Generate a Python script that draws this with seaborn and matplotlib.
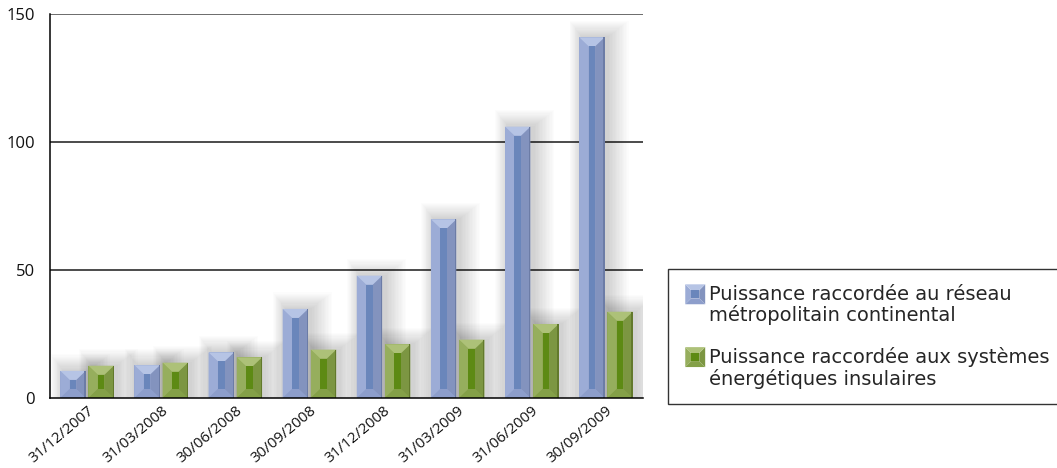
import matplotlib
matplotlib.use("Agg")
import matplotlib.pyplot as plt
from matplotlib.patches import Polygon, Rectangle
from matplotlib.legend_handler import HandlerBase
import pandas as pd
import seaborn as sns

# Connected photovoltaic capacity per quarter (MW)
dates = ["31/12/2007", "31/03/2008", "30/06/2008", "30/09/2008",
         "31/12/2008", "31/03/2009", "31/06/2009", "30/09/2009"]
continental = [10.6, 12.8, 17.8, 34.8, 47.8, 69.8, 106.0, 140.9]
insular = [12.6, 13.8, 15.9, 18.9, 21.0, 22.8, 28.9, 33.7]
series_names = ["Puissance raccordée au réseau\nmétropolitain continental",
                "Puissance raccordée aux systèmes\nénergétiques insulaires"]
y_ticks = [0, 50, 100, 150]

# bevel shading: base, top, left, right, bottom, inner, edge
shades = {
    series_names[0]: dict(base="#93a4cf", top="#b6c4e5", left="#9cacd6",
                          right="#8393be", bottom="#8d9ecb", inner="#6a86bb",
                          edge="#6c7ca6"),
    series_names[1]: dict(base="#87a14b", top="#adc178", left="#96ae5d",
                          right="#7c9642", bottom="#84a048", inner="#5d8a14",
                          edge="#62792c"),
}

df = pd.DataFrame({
    "date": dates * 2,
    "value": continental + insular,
    "series": [series_names[0]] * len(dates) + [series_names[1]] * len(dates),
})

sns.set_style("white")
plt.rcParams["font.family"] = ["Open Sans", "DejaVu Sans"]

W, H = 1057, 468
fig = plt.figure(figsize=(W / 100, H / 100), dpi=100)
ax = fig.add_axes([50 / W, 1 - 398 / H, 593 / W, 384 / H])

sns.barplot(data=df, x="date", y="value", hue="series",
            palette=[shades[s]["base"] for s in series_names],
            width=0.76, gap=0.1, legend=False, ax=ax, zorder=3,
            linewidth=0, saturation=1)

ax.set_xlim(-0.5, len(dates) - 0.5)
ax.set_ylim(0, 150)

# pixel -> data scale factors
px_x = len(dates) / 593.0
px_y = 150 / 384.0


def bevel_patches(x0, x1, y0, y1, sh, bpx=10, bpy=9, z=4):
    bx = min(bpx * px_x, (x1 - x0) * 0.37)
    by = min(bpy * px_y, (y1 - y0) * 0.42)
    polys = [
        ([(x0, y0), (x0, y1), (x0 + bx, y1 - by), (x0 + bx, y0 + by)], sh["left"]),
        ([(x1, y0), (x1, y1), (x1 - bx, y1 - by), (x1 - bx, y0 + by)], sh["right"]),
        ([(x0, y0), (x1, y0), (x1 - bx, y0 + by), (x0 + bx, y0 + by)], sh["bottom"]),
        ([(x0, y1), (x1, y1), (x1 - bx, y1 - by), (x0 + bx, y1 - by)], sh["top"]),
    ]
    out = [Polygon(p, closed=True, facecolor=c, edgecolor="none", zorder=z)
           for p, c in polys]
    out.append(Rectangle((x0 + bx, y0 + by), x1 - x0 - 2 * bx, y1 - y0 - 2 * by,
                         facecolor=sh["inner"], edgecolor="none", zorder=z + 0.1))
    # darker outline on the right edge
    out.append(Rectangle((x1 - 1.2 * px_x, y0), 1.2 * px_x, y1 - y0,
                         facecolor=sh["edge"], edgecolor="none", zorder=z + 0.2))
    return out


bars = [p for p in ax.patches if isinstance(p, Rectangle) and p.get_height() > 0]
for i, bar in enumerate(bars):
    sh = shades[series_names[0] if i < len(dates) else series_names[1]]
    x0 = bar.get_x()
    x1 = x0 + bar.get_width()
    h = bar.get_height()
    # soft halo behind each bar, leaning to the right
    for k in range(1, 16):
        ex, ey = k * 1.4 * px_x, k * 1.1 * px_y
        ax.add_patch(Rectangle((x0 - 0.6 * ex + 3 * px_x, 0),
                               (x1 - x0) + 1.6 * ex, h + ey,
                               facecolor="#000000", alpha=0.010, edgecolor="none",
                               zorder=2))
    for p in bevel_patches(x0, x1, 0, h, sh):
        ax.add_patch(p)

# axes styling
ax.set_yticks(y_ticks)
ax.set_yticklabels([str(t) for t in y_ticks])
for t in y_ticks[1:]:
    ax.axhline(t, color="#1a1a1a" if t < 150 else "#444444", lw=1.1, zorder=1)
for side in ["top", "right"]:
    ax.spines[side].set_visible(False)
for side in ["left", "bottom"]:
    ax.spines[side].set_color("#000000")
    ax.spines[side].set_linewidth(1.1)
    ax.spines[side].set_zorder(5)

ax.set_xlabel("")
ax.set_ylabel("")
ax.tick_params(axis="y", length=0, pad=11, labelsize=12, colors="#111111")
ax.tick_params(axis="x", which="major", length=0, pad=4, labelsize=10.8,
               colors="#111111")
ax.set_xticks([i + 0.5 for i in range(len(dates))], minor=True)
ax.tick_params(axis="x", which="minor", length=5, width=1.1, color="#000000",
               direction="out")
for lab in ax.get_xticklabels():
    lab.set_rotation(40)
    lab.set_ha("right")
    lab.set_rotation_mode("anchor")


class BevelHandler(HandlerBase):
    def __init__(self, sh):
        super().__init__()
        self.sh = sh

    def create_artists(self, legend, orig_handle, xdescent, ydescent,
                       width, height, fontsize, trans):
        s = min(width, height)
        x0 = -xdescent + (width - s) / 2
        # align the swatch with the first line of the two-line label
        y0 = -ydescent + (height - s) / 2 + fontsize * 0.6
        b = s * 0.3
        sh = self.sh
        polys = [
            ([(x0, y0), (x0, y0 + s), (x0 + b, y0 + s - b), (x0 + b, y0 + b)], sh["left"]),
            ([(x0 + s, y0), (x0 + s, y0 + s), (x0 + s - b, y0 + s - b), (x0 + s - b, y0 + b)], sh["right"]),
            ([(x0, y0), (x0 + s, y0), (x0 + s - b, y0 + b), (x0 + b, y0 + b)], sh["bottom"]),
            ([(x0, y0 + s), (x0 + s, y0 + s), (x0 + s - b, y0 + s - b), (x0 + b, y0 + s - b)], sh["top"]),
        ]
        arts = [Polygon(p, closed=True, facecolor=c, edgecolor="none", transform=trans)
                for p, c in polys]
        arts.append(Rectangle((x0 + b, y0 + b), s - 2 * b, s - 2 * b,
                              facecolor=sh["inner"], edgecolor="none", transform=trans))
        return arts


handles = [Rectangle((0, 0), 1, 1) for _ in series_names]
leg = fig.legend(handles, series_names,
                 handler_map={h: BevelHandler(shades[s]) for h, s in zip(handles, series_names)},
                 loc="upper left", mode="expand",
                 bbox_to_anchor=(668 / W, 1 - 402 / H, 460 / W, 133 / H),
                 prop={"family": "DejaVu Sans", "size": 14.0},
                 frameon=True, fancybox=False, borderpad=0.8,
                 handlelength=1.2, handleheight=1.2, handletextpad=0.12,
                 labelspacing=1.1, borderaxespad=0)
for txt in leg.get_texts():
    txt.set_linespacing(1.12)
leg.get_frame().set_edgecolor("#000000")
leg.get_frame().set_linewidth(1.0)

fig.savefig("out.png", dpi=100)
